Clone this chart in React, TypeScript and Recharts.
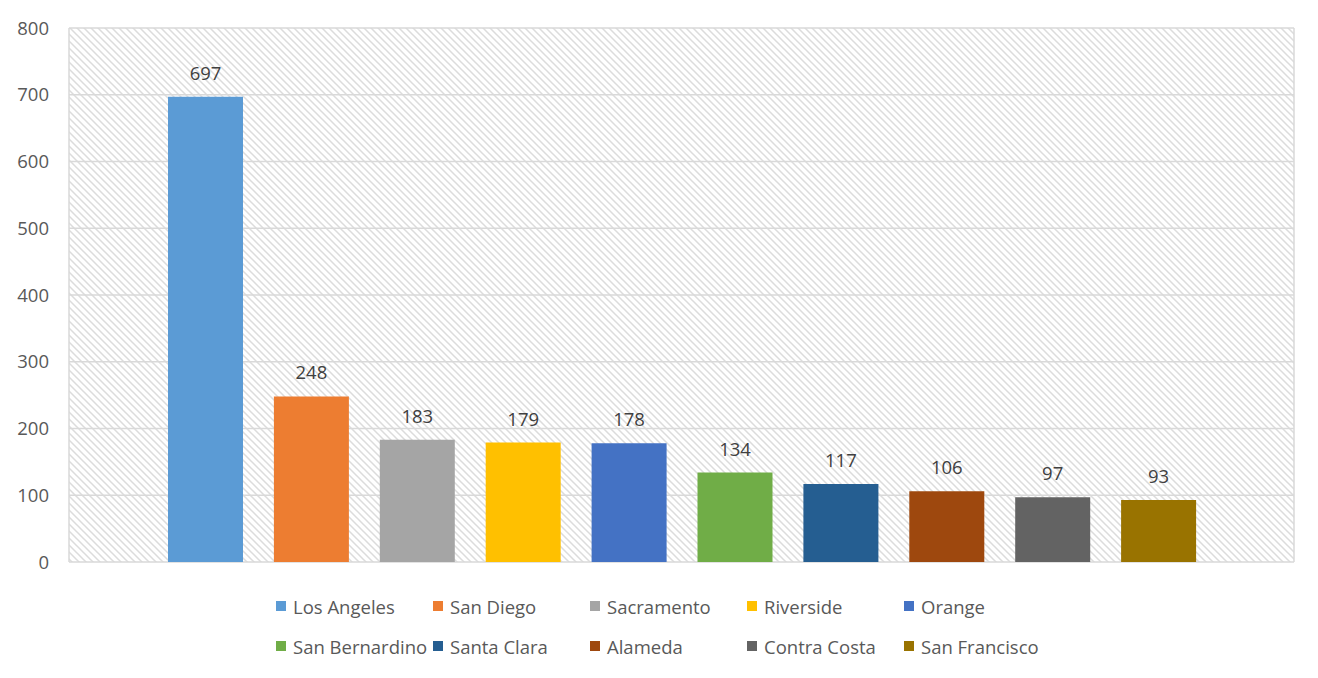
import { BarChart, Bar, XAxis, YAxis, CartesianGrid, Cell, LabelList } from 'recharts'

const counties = ['Los Angeles', 'San Diego', 'Sacramento', 'Riverside', 'Orange', 'San Bernardino', 'Santa Clara', 'Alameda', 'Contra Costa', 'San Francisco']
const counts = [697, 248, 183, 179, 178, 134, 117, 106, 97, 93]
const colors = ['#5b9bd5', '#ed7d31', '#a5a5a5', '#ffc000', '#4472c4', '#70ad47', '#255e91', '#9e480e', '#636363', '#997300']
const yTicks = [0, 100, 200, 300, 400, 500, 600, 700, 800]

const data = counties.map((name, i) => ({ name, count: counts[i] }))

const font = '"Open Sans", sans-serif'

// legend laid out like the Excel one: 5 columns, 2 rows
const ChartLegend = () => (
  <div style={{ position: 'absolute', left: 276, top: 593, width: 800, fontFamily: font, fontSize: 18.5, color: '#595959' }}>
    {counties.map((c, i) => (
      <div
        key={c}
        style={{
          position: 'absolute',
          left: (i % 5) * 157,
          top: Math.floor(i / 5) * 40,
          display: 'flex',
          alignItems: 'center',
          whiteSpace: 'nowrap',
          height: 26,
        }}
      >
        <span style={{ width: 10, height: 10, background: colors[i], marginRight: 7, display: 'inline-block' }} />
        {c}
      </div>
    ))}
  </div>
)

export default function App() {
  return (
    <div style={{ position: 'relative', width: 1318, height: 678, margin: -8, background: '#fff' }}>
      <div style={{ position: 'absolute', left: 1, top: 1, width: 1315, height: 675, border: '1px solid #d9d9d9', boxSizing: 'border-box' }} />
      <BarChart width={1318} height={678} data={data} margin={{ top: 28, right: 24, bottom: 116, left: 9 }}>
        <defs>
          <pattern id="hatch" patternUnits="userSpaceOnUse" width={7} height={7}>
            <rect width={7} height={7} fill="#fff" />
            <path d="M-1,-1 L8,8 M-1,6 L1,8 M6,-1 L8,1" stroke="#dcdcdc" strokeWidth={1.5} />
          </pattern>
        </defs>
        <CartesianGrid
          fill="url(#hatch)"
          stroke="#d9d9d9"
          strokeWidth={1.5}
          verticalCoordinatesGenerator={({ offset }: any) => [offset.left, offset.left + offset.width]}
        />
        <XAxis dataKey="name" hide padding={{ left: 84, right: 82 }} />
        <YAxis
          width={60}
          domain={[0, 800]}
          ticks={yTicks}
          axisLine={false}
          tickLine={false}
          tickMargin={14}
          tick={{ fontSize: 18.5, fill: '#595959', fontFamily: font }}
        />
        <Bar dataKey="count" barSize={75} isAnimationActive={false}>
          {data.map((d, i) => (
            <Cell key={d.name} fill={colors[i]} />
          ))}
          <LabelList dataKey="count" position="top" offset={17} style={{ fontSize: 18.5, fill: '#404040', fontFamily: font }} />
        </Bar>
      </BarChart>
      <ChartLegend />
    </div>
  )
}
